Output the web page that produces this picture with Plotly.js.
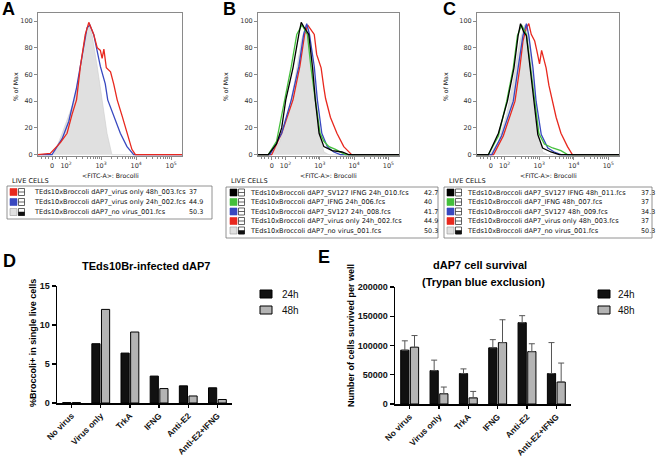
<!DOCTYPE html>
<html><head><meta charset="utf-8">
<script src="https://cdn.plot.ly/plotly-3.0.1.min.js"></script>
<style>html,body{margin:0;padding:0;background:#fff}#chart{width:656px;height:457px}</style>
</head><body><div id="chart"></div>
<script>
// ---------- Histogram panels (x = decades of <FITC-A>, y = % of Max) ----------
const histTickVals = [1.6, 2, 3, 4, 5];
const histTickText = ['0', '10<sup>2</sup>', '10<sup>3</sup>', '10<sup>4</sup>', '10<sup>5</sup>'];
const histYTicks = [0, 20, 40, 60, 80, 100];

// Panel A
const aGreyX = [1.2, 1.65, 1.89, 2.24, 2.41, 2.55, 2.65, 2.74, 2.89, 3.03, 3.17, 3.31, 5.31];
const aGreyY = [0, 0, 16, 41, 66, 90, 97, 90, 66, 41, 16, 0, 0];
const aBlueX = [1.2, 1.60, 1.89, 2.08, 2.30, 2.46, 2.60, 2.68, 2.79, 2.98, 3.12, 3.19, 3.36, 3.55, 3.74, 3.93, 5.31];
const aBlueY = [0, 0, 12, 25, 50, 75, 95, 97, 90, 66, 53, 41, 29, 16, 6, 0, 0];
const aRedX = [1.2, 1.55, 1.84, 2.03, 2.17, 2.30, 2.41, 2.55, 2.65, 2.79, 2.89, 2.98, 3.03, 3.08, 3.15, 3.27, 3.36, 3.46, 3.60, 3.74, 3.88, 3.98, 5.31];
const aRedY = [0, 1, 9, 16, 30, 41, 66, 90, 99, 90, 80, 78, 72, 79, 65, 62, 53, 41, 29, 16, 4, 0, 0];

// Panel B
const bGreyX = [1.2, 1.60, 1.84, 2.08, 2.27, 2.46, 2.60, 2.70, 2.81, 2.90, 3.00, 3.12, 3.27, 5.31];
const bGreyY = [0, 0, 10, 30, 55, 85, 97, 90, 66, 40, 15, 2, 0, 0];
const bRedX = [1.2, 1.60, 1.89, 2.22, 2.42, 2.56, 2.65, 2.74, 2.84, 2.91, 3.04, 3.12, 3.17, 3.31, 3.50, 3.70, 3.93, 5.31];
const bRedY = [0, 0, 16, 41, 66, 90, 97, 94, 90, 75, 65, 50, 42, 28, 16, 6, 0, 0];
const bBlueX = [1.2, 1.55, 1.89, 2.17, 2.39, 2.53, 2.62, 2.70, 2.84, 2.93, 3.06, 3.22, 3.41, 3.60, 5.31];
const bBlueY = [0, 0, 16, 41, 66, 90, 98, 90, 66, 41, 16, 6, 2, 0, 0];
const bGreenX = [1.2, 1.50, 1.74, 1.98, 2.17, 2.33, 2.48, 2.64, 2.74, 2.87, 3.01, 3.12, 3.27, 3.46, 3.65, 3.74, 5.31];
const bGreenY = [0, 0, 10, 41, 66, 90, 97, 90, 66, 41, 16, 10, 6, 4, 1, 0, 0];
const bBlackX = [1.2, 1.50, 1.74, 1.89, 2.01, 2.22, 2.39, 2.46, 2.55, 2.68, 2.79, 2.87, 2.98, 3.12, 3.36, 3.65, 3.84, 5.31];
const bBlackY = [0, 0, 8, 20, 41, 65, 90, 99, 95, 90, 65, 41, 16, 6, 3, 2, 0, 0];

// Panel C
const cGreyX = [1.2, 1.58, 1.82, 2.06, 2.25, 2.44, 2.58, 2.70, 2.80, 2.90, 2.99, 3.10, 3.25, 5.31];
const cGreyY = [0, 0, 10, 30, 55, 85, 97, 88, 66, 40, 15, 2, 0, 0];
const cRedX = [1.2, 1.68, 1.96, 2.30, 2.44, 2.53, 2.63, 2.70, 2.77, 2.87, 2.93, 3.01, 3.07, 3.12, 3.20, 3.28, 3.39, 3.49, 3.63, 3.82, 3.96, 5.31];
const cRedY = [0, 0, 14, 40, 65, 85, 95, 98, 90, 85, 78, 68, 78, 72, 65, 52, 40, 28, 16, 6, 0, 0];
const cBlueX = [1.2, 1.63, 1.91, 2.25, 2.39, 2.53, 2.63, 2.70, 2.82, 2.91, 3.06, 3.25, 3.44, 3.63, 5.31];
const cBlueY = [0, 0, 14, 40, 65, 89, 98, 89, 65, 40, 15, 5, 2, 0, 0];
const cGreenX = [1.2, 1.53, 1.82, 2.06, 2.25, 2.37, 2.49, 2.63, 2.75, 2.87, 2.99, 3.15, 3.39, 3.63, 3.82, 5.31];
const cGreenY = [0, 0, 14, 40, 65, 89, 97, 90, 65, 40, 16, 8, 5, 3, 0, 0];
const cBlackX = [1.2, 1.53, 1.82, 2.08, 2.27, 2.39, 2.46, 2.55, 2.63, 2.74, 2.85, 2.96, 3.10, 3.34, 3.58, 5.31];
const cBlackY = [0, 0, 16, 40, 65, 89, 98, 92, 89, 65, 40, 15, 5, 2, 0, 0];

// Histogram legends
const aLegendLabels = ['TEds10xBroccoli dAP7_virus only 48h_003.fcs', 'TEds10xBroccoli dAP7_virus only 24h_002.fcs', 'TEds10xBroccoli dAP7_no virus_001.fcs'];
const aLegendValues = ['37', '44.9', '50.3'];
const bLegendLabels = ['TEds10xBroccoli dAP7_SV127 IFNG 24h_010.fcs', 'TEds10xBroccoli dAP7_IFNG 24h_006.fcs', 'TEds10xBroccoli dAP7_SV127 24h_008.fcs', 'TEds10xBroccoli dAP7_virus only 24h_002.fcs', 'TEds10xBroccoli dAP7_no virus_001.fcs'];
const bLegendValues = ['42.7', '40', '41.7', '44.9', '50.3'];
const cLegendLabels = ['TEds10xBroccoli dAP7_SV127 IFNG 48h_011.fcs', 'TEds10xBroccoli dAP7_IFNG 48h_007.fcs', 'TEds10xBroccoli dAP7_SV127 48h_009.fcs', 'TEds10xBroccoli dAP7_virus only 48h_003.fcs', 'TEds10xBroccoli dAP7_no virus_001.fcs'];
const cLegendValues = ['37.3', '37', '34.3', '37', '50.3'];

// ---------- Bar panels ----------
const categories = ['No virus', 'Virus only', 'TrkA', 'IFNG', 'Anti-E2', 'Anti-E2+IFNG'];
const seriesNames = ['24h', '48h'];
const broccoli24h = [0.05, 7.6, 6.4, 3.45, 2.2, 1.95];
const broccoli48h = [0.05, 12.0, 9.1, 1.85, 0.9, 0.45];
const survival24h = [92000, 57000, 52000, 96000, 139000, 52000];
const survival24hErr = [16000, 18000, 8000, 14000, 12000, 53000];
const survival48h = [97000, 17500, 10500, 105000, 89500, 37500];
const survival48hErr = [20000, 11500, 11000, 39000, 13500, 32500];

// ---------- helpers ----------
const W = 656, H = 457;
const px = v => v / W;
const py = v => 1 - v / H;
const RED = '#e8281e', BLUE = '#3848c0', GREEN = '#44c03c', BLACK = '#000000', GREYF = '#e0e0e0', GREYL = '#cccccc';
const FONT = 'Liberation Sans, Arial, sans-serif';
const HFONT = 'DejaVu Sans, Verdana, sans-serif';

function histLine(x, y, color, n) {
  return {type: 'scatter', mode: 'lines', x: x, y: y, xaxis: 'x' + n, yaxis: 'y' + n,
    line: {color: color, width: 1.3}, showlegend: false, hoverinfo: 'skip'};
}
function histFill(x, y, n) {
  return {type: 'scatter', mode: 'lines', x: x, y: y, xaxis: 'x' + n, yaxis: 'y' + n,
    fill: 'tozeroy', fillcolor: GREYF, line: {color: GREYL, width: 0.6}, showlegend: false, hoverinfo: 'skip'};
}

const traces = [
  histFill(aGreyX, aGreyY, ''), histLine(aBlueX, aBlueY, BLUE, ''), histLine(aRedX, aRedY, RED, ''),
  histFill(bGreyX, bGreyY, 2), histLine(bRedX, bRedY, RED, 2), histLine(bBlueX, bBlueY, BLUE, 2), histLine(bGreenX, bGreenY, GREEN, 2), histLine(bBlackX, bBlackY, BLACK, 2),
  histFill(cGreyX, cGreyY, 3), histLine(cRedX, cRedY, RED, 3), histLine(cBlueX, cBlueY, BLUE, 3), histLine(cGreenX, cGreenY, GREEN, 3), histLine(cBlackX, cBlackY, BLACK, 3),
  {type: 'bar', name: seriesNames[0], x: categories, y: broccoli24h, xaxis: 'x4', yaxis: 'y4', showlegend: false,
    marker: {color: '#111111', line: {color: '#000', width: 1}}},
  {type: 'bar', name: seriesNames[1], x: categories, y: broccoli48h, xaxis: 'x4', yaxis: 'y4', showlegend: false,
    marker: {color: '#b4b4b4', line: {color: '#000', width: 1}}},
  {type: 'bar', name: seriesNames[0], x: categories, y: survival24h, xaxis: 'x5', yaxis: 'y5', showlegend: false,
    marker: {color: '#111111', line: {color: '#000', width: 1}},
    error_y: {type: 'data', symmetric: false, array: survival24hErr, arrayminus: survival24hErr.map(() => 0), color: '#555', thickness: 1, width: 3}},
  {type: 'bar', name: seriesNames[1], x: categories, y: survival48h, xaxis: 'x5', yaxis: 'y5', showlegend: false,
    marker: {color: '#b4b4b4', line: {color: '#000', width: 1}},
    error_y: {type: 'data', symmetric: false, array: survival48hErr, arrayminus: survival48hErr.map(() => 0), color: '#555', thickness: 1, width: 3}}
];

const minorVals = [1.3, 1.4, 1.5, 1.7, 1.8, 1.9];
for (let n = 2; n <= 4; n++) for (let k = 2; k <= 9; k++) minorVals.push(n + Math.log10(k));

function histX(l, r, anchor) {
  return {domain: [px(l), px(r)], anchor: anchor, range: [1.2, 5.31], showgrid: false, zeroline: false,
    showline: true, mirror: true, linecolor: '#8a8a8a', linewidth: 1,
    tickmode: 'array', tickvals: histTickVals, ticktext: histTickText,
    ticks: 'outside', ticklen: 3, tickcolor: '#8a8a8a', tickfont: {family: HFONT, size: 6.5, color: '#333'},
    minor: {tickmode: 'array', tickvals: minorVals, ticks: 'outside', ticklen: 2, tickcolor: '#8a8a8a'}};
}
function histY(anchor) {
  return {domain: [py(156), py(13)], anchor: anchor, range: [-1, 106], showgrid: false, zeroline: false,
    showline: true, mirror: true, linecolor: '#8a8a8a', linewidth: 1,
    tickmode: 'array', tickvals: histYTicks, ticks: 'outside', ticklen: 3, tickcolor: '#8a8a8a',
    tickfont: {family: HFONT, size: 6.5, color: '#333'}};
}
function barX(l, r, anchor) {
  return {domain: [px(l), px(r)], anchor: anchor, type: 'category', range: [-0.5, 5.5], showgrid: false, zeroline: false,
    showline: true, linecolor: '#000', linewidth: 1.5, ticks: 'outside', ticklen: 3, tickwidth: 1.2, tickcolor: '#000',
    tickangle: -45, tickfont: {family: FONT, size: 8.5, color: '#111', weight: 'bold'}};
}
function barY(bottom, top, anchor, range, dtick, fmt) {
  return {domain: [py(bottom), py(top)], anchor: anchor, range: range, showgrid: false, zeroline: false,
    showline: true, linecolor: '#000', linewidth: 1.5, ticks: 'outside', ticklen: 4, tickwidth: 1.2, tickcolor: '#000',
    dtick: dtick, tick0: 0, tickformat: fmt, tickfont: {family: FONT, size: 9, color: '#111', weight: 'bold'}};
}

const shapes = [];
const annotations = [];
function ann(x, y, text, opt) {
  annotations.push(Object.assign({xref: 'paper', yref: 'paper', x: px(x), y: py(y), text: text, showarrow: false,
    xanchor: 'left', yanchor: 'middle', font: {family: HFONT, size: 6.6, color: '#111'}}, opt || {}));
}
function rect(x0, y0, x1, y1, fill, lineColor, lw) {
  shapes.push({type: 'rect', xref: 'paper', yref: 'paper', x0: px(x0), x1: px(x1), y0: py(y1), y1: py(y0),
    fillcolor: fill, line: {color: lineColor, width: lw}, layer: 'above'});
}
function hline(x0, x1, y, color, lw) {
  shapes.push({type: 'line', xref: 'paper', yref: 'paper', x0: px(x0), x1: px(x1), y0: py(y), y1: py(y),
    line: {color: color, width: lw}, layer: 'above'});
}

const valFont = {family: HFONT, size: 6.4, color: '#111'};
function histLegend(box, sw, textX, valX, rowY, labels, values, colors) {
  ann(box[0] + 3, 181, 'LIVE CELLS', {font: {family: HFONT, size: 6.6, color: '#111'}});
  rect(box[0], box[1], box[2], box[3], 'rgba(0,0,0,0)', '#777', 0.8);
  labels.forEach((lab, i) => {
    const y = rowY[i];
    const filled = colors[i] === GREYF;
    rect(sw, y - 3.5, sw + 7, y + 3.5, colors[i], filled ? '#999' : colors[i], 0.6);
    rect(sw + 8.5, y - 3.5, sw + 14.5, y + 3.5, '#fff', '#222', 0.7);
    if (filled) rect(sw + 8.5, y, sw + 14.5, y + 3.5, '#111', '#111', 0.5);
    else hline(sw + 8.5, sw + 14.5, y, '#222', 0.7);
    ann(textX, y, lab);
    ann(valX, y, values[i], {font: valFont});
  });
}

histLegend([7, 186, 212, 219], 10, 32, 187, [192, 202, 212], aLegendLabels, aLegendValues, [RED, BLUE, GREYF]);
histLegend([226, 187, 438, 238], 230, 248, 422, [192.5, 202, 211.5, 221, 230.5], bLegendLabels, bLegendValues, [BLACK, GREEN, BLUE, RED, GREYF]);
histLegend([444, 187, 652, 238], 447, 465, 638.5, [192.5, 202, 211.5, 221, 230.5], cLegendLabels, cLegendValues, [BLACK, GREEN, BLUE, RED, GREYF]);

// histogram axis titles
[[110, 15], [328, 225], [548, 445]].forEach(([cx, yx]) => {
  ann(cx, 175, '&lt;FITC-A&gt;: Brocolli', {xanchor: 'center', font: {family: HFONT, size: 6.2, color: '#111'}});
  ann(yx, 87, '% of Max', {xanchor: 'center', textangle: -90, font: {family: HFONT, size: 6.2, color: '#111'}});
});

// panel letters
const bigFont = {family: FONT, size: 18, color: '#000', weight: 'bold'};
ann(0, 9, 'A', {font: bigFont});
ann(221, 9, 'B', {font: bigFont});
ann(441, 9, 'C', {font: bigFont});
ann(1, 261, 'D', {font: bigFont});
ann(316, 257, 'E', {font: bigFont});

// bar panel titles
const titleFont = {family: FONT, size: 11, color: '#000', weight: 'bold'};
ann(146, 266, 'TEds10Br-infected dAP7', {xanchor: 'center', font: titleFont});
ann(480, 265, 'dAP7 cell survival', {xanchor: 'center', font: titleFont});
ann(483, 282, '(Trypan blue exclusion)', {xanchor: 'center', font: titleFont});
const axTitleFont = {family: FONT, size: 9, color: '#000', weight: 'bold'};
ann(33, 343, '%Broccoli+ in single live cells', {xanchor: 'center', textangle: -90, font: axTitleFont});
ann(351, 336, 'Number of cells survived per well', {xanchor: 'center', textangle: -90, font: axTitleFont});

// bar legends
const legFont = {family: FONT, size: 10, color: '#111'};
[[260, 280], [598, 616]].forEach(([sx, tx]) => {
  rect(sx, 290, sx + 12, 298, '#111111', '#000', 1);
  rect(sx, 306, sx + 12, 314, '#b4b4b4', '#000', 1);
  ann(tx, 294, seriesNames[0], {font: legFont});
  ann(tx, 310, seriesNames[1], {font: legFont});
});

const layout = {
  width: W, height: H, margin: {l: 0, r: 0, t: 0, b: 0}, paper_bgcolor: '#fff', plot_bgcolor: 'rgba(0,0,0,0)',
  showlegend: false, barmode: 'group', bargap: 0.34, bargroupgap: 0.15,
  font: {family: FONT},
  xaxis: histX(38, 182, 'y'), yaxis: histY('x'),
  xaxis2: histX(258, 399, 'y2'), yaxis2: histY('x2'),
  xaxis3: histX(477, 619, 'y3'), yaxis3: histY('x3'),
  xaxis4: barX(57, 232, 'y4'), yaxis4: barY(403, 286, 'x4', [0, 15], 5, ''),
  xaxis5: barX(395, 571, 'y5'), yaxis5: barY(404, 287, 'x5', [0, 200000], 50000, 'd'),
  shapes: shapes, annotations: annotations
};

Plotly.newPlot('chart', traces, layout, {displayModeBar: false, staticPlot: true});
</script>
</body></html>
